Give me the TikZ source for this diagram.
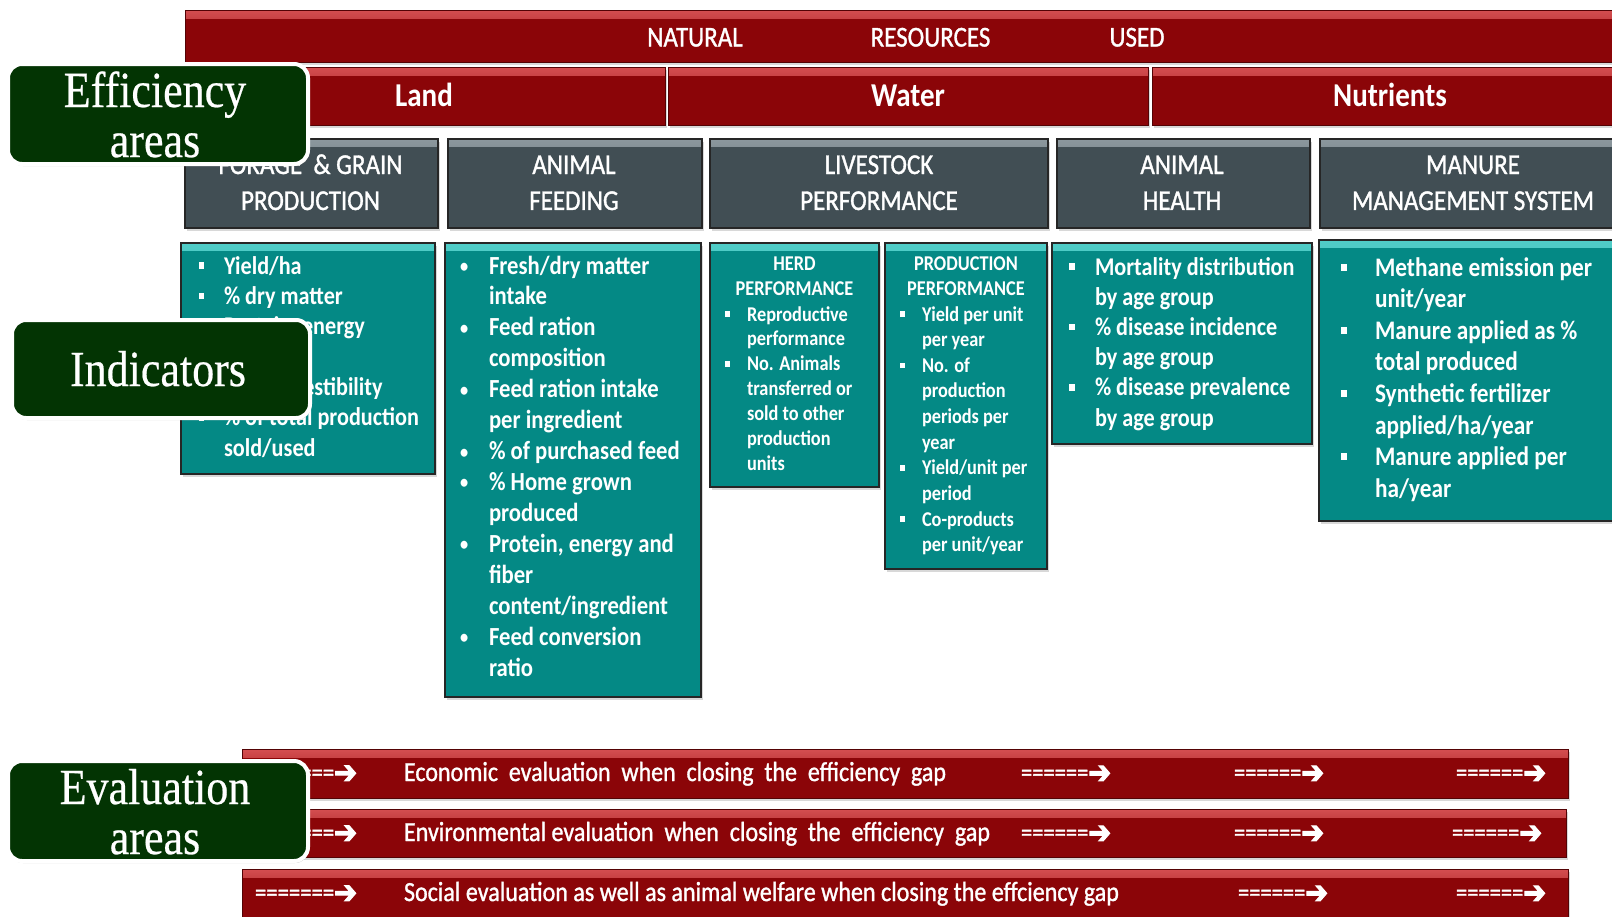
\documentclass[tikz,border=0pt]{standalone}
\usepackage{fontspec}
\setmainfont{Carlito}
\newfontfamily\med[FakeBold=1.3]{Carlito}
\newfontfamily\serf[FakeBold=0.5]{Liberation Serif}
\newfontfamily\dvb[FakeBold=4]{DejaVu Sans}
\usetikzlibrary{shadows}
\definecolor{barred}{RGB}{139,5,8}
\definecolor{barhi}{RGB}{212,78,80}
\definecolor{slate}{RGB}{65,78,84}
\definecolor{slatehi}{RGB}{140,152,158}
\definecolor{tealc}{RGB}{4,137,133}
\definecolor{tealhi}{RGB}{80,205,200}
\definecolor{dgreen}{RGB}{3,52,3}
\newcommand\Ys{1.15}
\newcommand\fitw[3]{\scalebox{1}[#2]{\resizebox{#1}{!}{#3}}}
\newcommand\sqb{\rule[0.2em]{0.26em}{0.26em}}
\newcommand\rdb{\raisebox{0.06em}{\scalebox{0.72}{•}}}
\newcommand\lst[4]{\scalebox{1}[\Ys]{\fontsize{#1}{#2}\selectfont\begin{tabular}[t]{@{}p{#3}@{}l@{}}#4\end{tabular}}}
\newcommand\hdr[1]{\scalebox{1}[\Ys]{\begin{tabular}[t]{@{}c@{}}#1\end{tabular}}}
\newcommand\arrow{{\dvb\raisebox{-0.08em}{\scalebox{1.2}{➔}}}}
\newcommand\arr[1]{\fitw{#1}{\Ys}{\fontsize{24}{24}\selectfont\med =======\arrow}}
\newcommand\arrs[1]{\fitw{#1}{\Ys}{\fontsize{24}{24}\selectfont\med ======\arrow}}
\begin{document}
\begin{tikzpicture}[x=1pt,y=-1pt,
  box/.style={anchor=north west, inner sep=0pt, outer sep=0pt},
  shd/.style={drop shadow={shadow xshift=1.5pt, shadow yshift=-2.5pt, opacity=0.3}},
  redbar/.style={box, shd, fill=barred, draw=barred!60!black, line width=0.8pt,
    path picture={\shade[top color=barhi, bottom color=barred] (path picture bounding box.north west) rectangle ([yshift=-8pt]path picture bounding box.north east);}},
  greybox/.style={box, shd, fill=slate, draw=black!85, line width=1.5pt,
    path picture={\shade[top color=slatehi, bottom color=slate] (path picture bounding box.north west) rectangle ([yshift=-7pt]path picture bounding box.north east);}},
  tealbox/.style={box, shd, fill=tealc, draw=black!85, line width=2pt,
    path picture={\shade[top color=tealhi, bottom color=tealc] (path picture bounding box.north west) rectangle ([yshift=-7pt]path picture bounding box.north east);}},
  gbox/.style={box, fill=dgreen, draw=white, line width=4pt, rounded corners=14pt,
    drop shadow={shadow xshift=1pt, shadow yshift=-2pt, opacity=0.45}},
  txt/.style={inner sep=0pt, outer sep=0pt, text=white},
  hfont/.style={font=\fontsize{25}{31.3}\selectfont\med},
  sfont/.style={font=\fontsize{44}{43.5}\selectfont\serf}
]
\useasboundingbox (0,0) rectangle (1612,916);
\fill[white] (0,0) rectangle (1612,916);

% top bars
\node[redbar, minimum width=1432pt, minimum height=52pt] (top) at (185,10) {};
\node[txt, hfont, anchor=base] (natural) at (695,46.5) {\hdr{NATURAL}};
\node[txt, hfont, anchor=base] (resources) at (930.5,46.5) {\hdr{RESOURCES}};
\node[txt, hfont, anchor=base] (used) at (1137,46.5) {\hdr{USED}};

\node[redbar, minimum width=480pt, minimum height=58pt] (land) at (185,67) {};
\node[redbar, minimum width=480pt, minimum height=58pt] (water) at (668,67) {};
\node[redbar, minimum width=465pt, minimum height=58pt] (nutr) at (1152,67) {};
\node[txt, font=\fontsize{29}{30}\selectfont\bfseries, anchor=base] (landt) at (424,106) {\hdr{Land}};
\node[txt, font=\fontsize{29}{30}\selectfont\bfseries, anchor=base] (watert) at (908,106) {\hdr{Water}};
\node[txt, font=\fontsize{29}{30}\selectfont\bfseries, anchor=base] (nutrt) at (1390,106) {\hdr{Nutrients}};

% grey headers
\node[greybox, minimum width=253pt, minimum height=89pt] (g1) at (185,139) {};
\node[greybox, minimum width=254pt, minimum height=89pt] (g2) at (448,139) {};
\node[greybox, minimum width=338pt, minimum height=89pt] (g3) at (710,139) {};
\node[greybox, minimum width=253pt, minimum height=89pt] (g4) at (1057,139) {};
\node[greybox, minimum width=310pt, minimum height=89pt] (g5) at (1320,139) {};
\node[txt, hfont, anchor=base] (g1t) at (310.5,174) {\hdr{FORAGE\ \ \& GRAIN\\PRODUCTION}};
\node[txt, hfont, anchor=base] (g2t) at (574,174) {\hdr{ANIMAL\\FEEDING}};
\node[txt, hfont, anchor=base] (g3t) at (879,174) {\hdr{LIVESTOCK\\PERFORMANCE}};
\node[txt, hfont, anchor=base] (g4t) at (1182,174) {\hdr{ANIMAL\\HEALTH}};
\node[txt, hfont, anchor=base] (g5t) at (1473,174) {\hdr{MANURE\\MANAGEMENT SYSTEM}};

% teal indicator boxes
\node[tealbox, minimum width=254pt, minimum height=231pt] (t1) at (181,243) {};
\node[tealbox, minimum width=256pt, minimum height=454pt] (t2) at (445,243) {};
\node[tealbox, minimum width=169pt, minimum height=244pt] (t3) at (710,243) {};
\node[tealbox, minimum width=162pt, minimum height=326pt] (t4) at (885,243) {};
\node[tealbox, minimum width=260pt, minimum height=201pt] (t5) at (1052,243) {};
\node[tealbox, minimum width=310pt, minimum height=281pt] (t6) at (1319,240) {};

\node[txt, font=\bfseries, anchor=base west] (t1t) at (198.5,274) {\lst{22.2}{26.4}{25.5pt}{%
\sqb & Yield/ha\\
\sqb & \% dry matter\\
\sqb & Protein, energy\\
 & content\\
\sqb & Fiber digestibility\\
\sqb & \% of total production\\
 & sold/used}};

\node[txt, font=\bfseries, anchor=base west] (t2t) at (460,274) {\lst{22.7}{26.9}{29pt}{%
\rdb & Fresh/dry matter\\
 & intake\\
\rdb & Feed ration\\
 & composition\\
\rdb & Feed ration intake\\
 & per ingredient\\
\rdb & \% of purchased feed\\
\rdb & \% Home grown\\
 & produced\\
\rdb & Protein, energy and\\
 & fiber\\
 & content/ingredient\\
\rdb & Feed conversion\\
 & ratio}};

\node[txt, font=\fontsize{18.3}{22.6}\selectfont\bfseries, anchor=base] (t3h) at (794.5,270) {\hdr{HERD\\PERFORMANCE}};
\node[txt, font=\bfseries, anchor=base west] (t3t) at (725,321) {\lst{18.3}{21.7}{22pt}{%
\sqb & Reproductive\\
 & performance\\
\sqb & No. Animals\\
 & transferred or\\
 & sold to other\\
 & production\\
 & units}};

\node[txt, font=\fontsize{18.3}{22.6}\selectfont\bfseries, anchor=base] (t4h) at (966,270) {\hdr{PRODUCTION\\PERFORMANCE}};
\node[txt, font=\bfseries, anchor=base west] (t4t) at (900,321) {\lst{18.3}{22.3}{22pt}{%
\sqb & Yield per unit\\
 & per year\\
\sqb & No. of\\
 & production\\
 & periods per\\
 & year\\
\sqb & Yield/unit per\\
 & period\\
\sqb & Co-products\\
 & per unit/year}};

\node[txt, font=\bfseries, anchor=base west] (t5t) at (1069,275) {\lst{22.2}{26.3}{26pt}{%
\sqb & Mortality distribution\\
 & by age group\\
\sqb & \% disease incidence\\
 & by age group\\
\sqb & \% disease prevalence\\
 & by age group}};

\node[txt, font=\bfseries, anchor=base west] (t6t) at (1341,276) {\lst{23.3}{27.5}{34pt}{%
\sqb & Methane emission per\\
 & unit/year\\
\sqb & Manure applied as \%\\
 & total produced\\
\sqb & Synthetic fertilizer\\
 & applied/ha/year\\
\sqb & Manure applied per\\
 & ha/year}};

% evaluation bars
\node[redbar, minimum width=1326pt, minimum height=48.5pt] (econ) at (242,749.5) {};
\node[redbar, minimum width=1324pt, minimum height=48.5pt] (env) at (242,809) {};
\node[redbar, minimum width=1326pt, minimum height=50pt] (soc) at (242,869) {};

\node[txt, anchor=base west] (econt) at (404,781) {\fitw{542pt}{\Ys}{\fontsize{24}{24}\selectfont\med Economic\ \ evaluation\ \ when\ \ closing\ \ the\ \ efficiency\ \ gap}};
\node[txt, anchor=base west] (envt) at (404,841) {\fitw{586pt}{\Ys}{\fontsize{24}{24}\selectfont\med Environmental evaluation\ \ when\ \ closing\ \ the\ \ efficiency\ \ gap}};
\node[txt, anchor=base west] (soct) at (404,901) {\fitw{715pt}{\Ys}{\fontsize{24}{24}\selectfont\med Social evaluation as well as animal welfare when closing the effciency gap}};

\node[txt, anchor=base west] (ea0) at (255,781) {\arr{102pt}};
\node[txt, anchor=base west] (ea1) at (1021,781) {\arrs{90pt}};
\node[txt, anchor=base west] (ea2) at (1234,781) {\arrs{90pt}};
\node[txt, anchor=base west] (ea3) at (1456,781) {\arrs{90pt}};
\node[txt, anchor=base west] (va0) at (255,841) {\arr{102pt}};
\node[txt, anchor=base west] (va1) at (1021,841) {\arrs{90pt}};
\node[txt, anchor=base west] (va2) at (1234,841) {\arrs{90pt}};
\node[txt, anchor=base west] (va3) at (1452,841) {\arrs{90pt}};
\node[txt, anchor=base west] (sa0) at (255,901) {\arr{102pt}};
\node[txt, anchor=base west] (sa2) at (1238,901) {\arrs{90pt}};
\node[txt, anchor=base west] (sa3) at (1456,901) {\arrs{90pt}};

% green label boxes
\node[gbox, minimum width=300pt, minimum height=100pt] (eff) at (8,64) {};
\node[txt, sfont, anchor=base] (efft) at (155,107) {\scalebox{1}[1.15]{\begin{tabular}[t]{@{}c@{}}Efficiency\\areas\end{tabular}}};
\node[gbox, minimum width=298pt, minimum height=98pt] (ind) at (12,320) {};
\node[txt, sfont, anchor=base] (indt) at (158,386) {\scalebox{1}[1.15]{Indicators}};
\node[gbox, minimum width=300pt, minimum height=100pt] (eva) at (8,761) {};
\node[txt, sfont, anchor=base] (evat) at (155,804) {\scalebox{1}[1.15]{\begin{tabular}[t]{@{}c@{}}Evaluation\\areas\end{tabular}}};
\end{tikzpicture}
\end{document}
